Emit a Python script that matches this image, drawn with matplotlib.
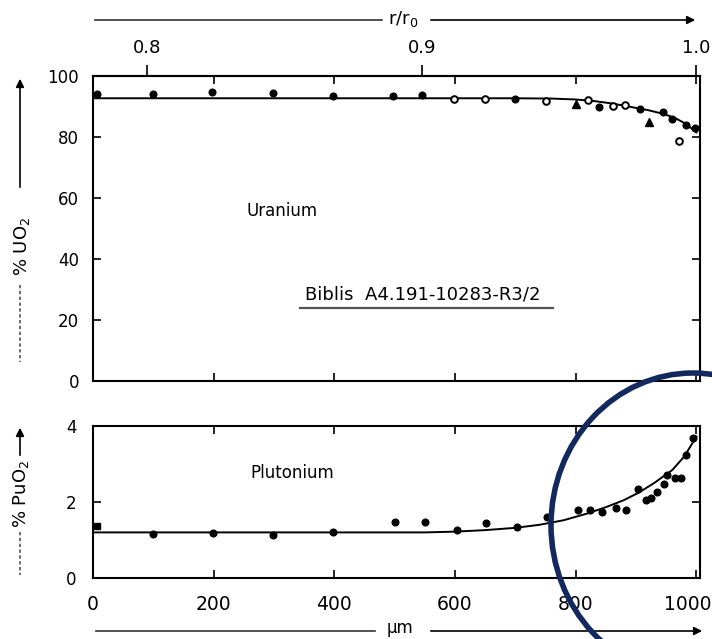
import matplotlib
matplotlib.use("Agg")
import matplotlib.pyplot as plt
import matplotlib.transforms as mtransforms
from matplotlib.patches import Ellipse, FancyArrowPatch
from matplotlib.lines import Line2D

# ---------------- data ----------------
# Upper panel: % UO2 vs distance (um)
u_fill_x = [6, 99, 197, 298, 398, 497, 546, 699, 839, 906, 944, 960, 983, 997]
u_fill_y = [94.0, 94.0, 94.7, 94.5, 93.3, 93.5, 93.8, 92.4, 89.8, 89.1, 88.2, 85.9, 83.9, 82.9]
u_open_x = [599, 649, 751, 820, 861, 882, 972]
u_open_y = [92.5, 92.4, 91.8, 92.0, 90.1, 90.5, 78.6]
u_tri_x = [801, 922]
u_tri_y = [90.8, 84.9]
u_line_x = [0, 700, 760, 800, 830, 860, 890, 920, 945, 965, 980, 992, 1000]
u_line_y = [92.7, 92.7, 92.6, 92.3, 91.8, 91.0, 89.9, 88.8, 87.6, 86.2, 84.6, 82.8, 81.5]

# Lower panel: % PuO2 vs distance (um)
p_sq_x = [6]
p_sq_y = [1.38]
p_x = [99, 199, 298, 398, 500, 550, 603, 652, 702, 752, 803, 823, 843, 867, 884,
       904, 917, 925, 934, 947, 952, 964, 975, 983, 995]
p_y = [1.15, 1.18, 1.13, 1.2, 1.47, 1.47, 1.26, 1.45, 1.34, 1.6, 1.79, 1.8, 1.74, 1.84, 1.79,
       2.34, 2.05, 2.1, 2.26, 2.47, 2.7, 2.63, 2.63, 3.24, 3.68]
p_line_x = [0, 550, 600, 650, 700, 740, 780, 820, 851, 880, 906, 930, 960, 980, 1000]
p_line_y = [1.2, 1.2, 1.22, 1.26, 1.32, 1.4, 1.52, 1.7, 1.87, 2.05, 2.26, 2.5, 2.84, 3.2, 3.72]

x_ticks = [0, 200, 400, 600, 800, 1000]
u_ticks = [0, 20, 40, 60, 80, 100]
p_ticks = [0, 2, 4]
r_ticks = [0.8, 0.9, 1.0]
r_tick_labels = ["0.8", "0.9", "1.0"]
R0 = 4550.0  # um, for r/r0 axis

W, H = 712, 639
fig = plt.figure(figsize=(W / 100, H / 100), dpi=100)
plt.rcParams['font.family'] = ['DejaVu Sans']


def fx(x):
    return x / W


def fy(y):
    return 1 - y / H


XMAX = 1006
LW = 1.4
ax1 = fig.add_axes([fx(93), fy(381), fx(700) - fx(93), fy(76) - fy(381)])
ax2 = fig.add_axes([fx(93), fy(578), fx(700) - fx(93), fy(426) - fy(578)])

ms = 4.8
# upper
ax1.plot(u_line_x, u_line_y, color='black', lw=LW)
ax1.plot(u_fill_x, u_fill_y, 'o', color='black', ms=ms)
ax1.plot(u_open_x, u_open_y, 'o', mfc='white', mec='black', mew=1.4, ms=ms)
ax1.plot(u_tri_x, u_tri_y, '^', color='black', ms=ms + 0.5)
ax1.set_xlim(0, XMAX)
ax1.set_ylim(0, 100)
ax1.set_yticks(u_ticks)
ax1.set_xticks(x_ticks)
ax1.tick_params(axis='x', which='both', direction='in', top=True, bottom=True,
                labelbottom=False, length=6, width=1.2)
ax1.tick_params(axis='y', direction='in', left=True, right=True, length=6, width=1.2,
                labelsize=12, pad=10)

ax1.text(313, 55.6, "Uranium", fontsize=12, ha='center', va='center')
ax1.text(547, 28.2, "Biblis  A4.191-10283-R3/2", fontsize=13, ha='center', va='center')
ax1.plot([343, 762], [24.0, 24.0], color='#555555', lw=1.6, clip_on=False)

sec = ax1.secondary_xaxis('top', functions=(lambda x: 1 - (1000 - x) / R0,
                                            lambda r: 1000 - (1 - r) * R0))
sec.set_xticks(r_ticks)
sec.set_xticklabels(r_tick_labels)
sec.tick_params(direction='out', length=8, width=1.2, labelsize=13, pad=6)

# lower
ax2.plot(p_line_x, p_line_y, color='black', lw=LW)
ax2.plot(p_x, p_y, 'o', color='black', ms=ms)
ax2.plot(p_sq_x, p_sq_y, 's', color='black', ms=ms)
ax2.set_xlim(0, XMAX)
ax2.set_ylim(0, 4)
ax2.set_yticks(p_ticks)
ax2.set_xticks(x_ticks)
ax2.tick_params(axis='x', direction='in', top=True, bottom=True, length=6, width=1.2,
                labelsize=13.5, pad=12)
ax2.tick_params(axis='y', direction='in', left=True, right=True, length=6, width=1.2,
                labelsize=12, pad=12)
ax2.text(330, 2.76, "Plutonium", fontsize=12, ha='center', va='center')

# shift the last x label (1000) slightly left so it stays inside the figure
fig.canvas.draw()
last = ax2.get_xticklabels()[-1]
last.set_transform(last.get_transform() + mtransforms.ScaledTranslation(-9 / 100, 0, fig.dpi_scale_trans))

for ax in (ax1, ax2):
    for s in ax.spines.values():
        s.set_linewidth(1.5)
for s in sec.spines.values():
    s.set_linewidth(1.5)

# axis titles with arrows
arrow_kw = dict(arrowstyle='-|>', color='black', lw=1.2, mutation_scale=12)
# r/r0
fig.text(fx(403), fy(19), r"r/r$_0$", fontsize=13, ha='center', va='center')
fig.add_artist(Line2D([fx(95), fx(382)], [fy(20), fy(20)], color='#333333', lw=1.2))
fig.add_artist(FancyArrowPatch((fx(428), fy(20)), (fx(698), fy(20)),
                               transform=fig.transFigure, **arrow_kw))
# um
fig.text(fx(400), fy(628), "µm", fontsize=12, ha='center', va='center')
fig.add_artist(Line2D([fx(96), fx(375)], [fy(631), fy(631)], color='#333333', lw=1.2))
fig.add_artist(FancyArrowPatch((fx(428), fy(631)), (fx(705), fy(631)),
                               transform=fig.transFigure, **arrow_kw))
# % UO2
fig.text(fx(22), fy(246), "% UO$_2$", fontsize=13, rotation=90, ha='center', va='center')
fig.add_artist(FancyArrowPatch((fx(20), fy(190)), (fx(20), fy(76)),
                               transform=fig.transFigure, **arrow_kw))
fig.add_artist(Line2D([fx(20), fx(20)], [fy(285), fy(362)], color='#555555', lw=1.2,
                      ls=(0, (2, 1.5))))
# % PuO2
fig.text(fx(21), fy(494), "% PuO$_2$", fontsize=13, rotation=90, ha='center', va='center')
fig.add_artist(FancyArrowPatch((fx(20), fy(458)), (fx(20), fy(425)),
                               transform=fig.transFigure, **arrow_kw))
fig.add_artist(Line2D([fx(20), fx(20)], [fy(532), fy(575)], color='#555555', lw=1.2,
                      ls=(0, (2, 1.5))))

# highlight ellipse
ell = Ellipse((fx(693), fy(525)), width=284 / W, height=304 / H, transform=fig.transFigure,
              fill=False, edgecolor='#13295e', lw=4, clip_on=False)
fig.add_artist(ell)

fig.savefig("out.png", dpi=100)
